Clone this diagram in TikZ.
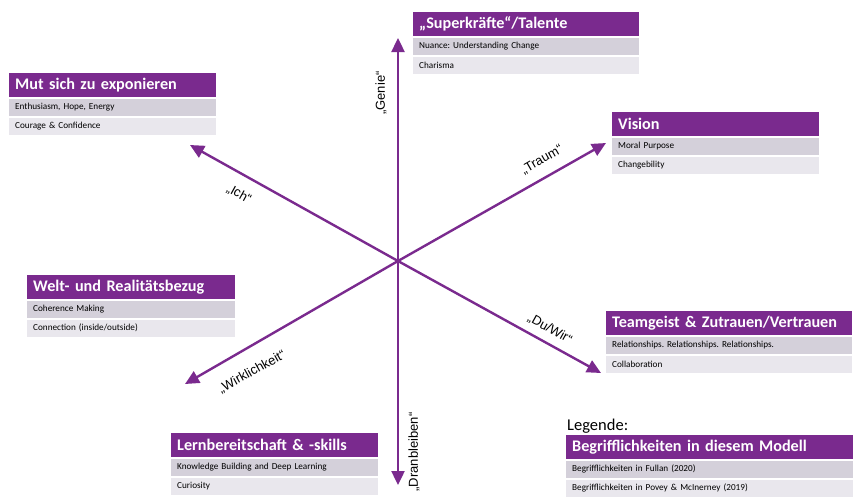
\documentclass[tikz,border=0pt]{standalone}
\usepackage{fontspec}
\setmainfont{Carlito}
\newfontfamily\axisfont{Liberation Sans}
\usetikzlibrary{arrows.meta}
\frenchspacing

\definecolor{modelpurple}{HTML}{7A2A8E}
\definecolor{rowdark}{HTML}{D4D0DA}
\definecolor{rowlight}{HTML}{E9E7ED}

\tikzset{
  axis/.style={draw=modelpurple, line width=2.4pt, -{Triangle[length=14pt,width=13pt]}},
  axislabel/.style={font=\axisfont\fontsize{13}{15}\selectfont, inner sep=0pt},
  boxhead/.style={fill=modelpurple, text=white, font=\bfseries\fontsize{16.2}{19}\selectfont,
    anchor=north west, inner xsep=6pt, inner ysep=0pt, minimum height=24pt, align=left},
  boxrow/.style={anchor=north west, font=\fontsize{9.2}{11}\selectfont,
    inner xsep=6pt, inner ysep=0pt, minimum height=17.5pt, align=left},
}

% #1 name, #2 x, #3 y (top), #4 text width, #5 title, #6 first row, #7 second row
\newcommand\conceptbox[7]{%
  \node[boxhead, text width=#4pt] (#1) at (#2,#3) {#5};
  \node[boxrow, fill=rowdark, text width=#4pt] (#1-a) at ([yshift=-1pt]#1.south west) {#6};
  \node[boxrow, fill=rowlight, text width=#4pt] (#1-b) at ([yshift=-1pt]#1-a.south west) {#7};
}

\begin{document}
\begin{tikzpicture}[x=1pt, y=-1pt]
  \useasboundingbox (0,0) rectangle (854,499);

  % axes of the model
  \coordinate (hub) at (398,261);
  \coordinate (tipup) at (398,38);
  \coordinate (tipdown) at (398,485);
  \coordinate (tipul) at (190,145);
  \coordinate (tiplr) at (601,373);
  \coordinate (tipll) at (185,384);
  \coordinate (tipur) at (606,143);

  \draw[axis] (hub) -- (tipup);
  \draw[axis] (hub) -- (tipdown);
  \draw[axis] (hub) -- (tipul);
  \draw[axis] (hub) -- (tiplr);
  \draw[axis] (hub) -- (tipll);
  \draw[axis] (hub) -- (tipur);

  % axis labels
  \node[axislabel, rotate=90]  (genie) at (381,93)  {„Genie“};
  \node[axislabel, rotate=-29] (ich)   at (239,194) {„Ich“};
  \node[axislabel, rotate=30]  (traum) at (542,160) {„Traum“};
  \node[axislabel, rotate=-29] (duwir) at (550,329) {„Du/Wir“};
  \node[axislabel, rotate=29]  (wirk)  at (252,372) {„Wirklichkeit“};
  \node[axislabel, rotate=90]  (dran)  at (414,452) {„Dranbleiben“};

  % concept boxes
  \conceptbox{mut}{9}{73}{195}{Mut sich zu exponieren}{Enthusiasm, Hope, Energy}{Courage \& Confidence}
  \conceptbox{super}{413}{12}{214}{„Superkräfte“/Talente}{Nuance: Understanding Change}{Charisma}
  \conceptbox{vision}{612}{112}{195}{Vision}{Moral Purpose}{Changebility}
  \conceptbox{welt}{27}{275}{196}{Welt- und Realitätsbezug}{Coherence Making}{Connection (inside/outside)}
  \conceptbox{team}{606}{311}{234}{Teamgeist \& Zutrauen/Vertrauen}{Relationships. Relationships. Relationships.}{Collaboration}
  \conceptbox{lern}{171}{433}{195}{Lernbereitschaft \& -skills}{Knowledge Building and Deep Learning}{Curiosity}

  % legend
  \node[anchor=base west, inner sep=0pt, font=\fontsize{16.5}{19}\selectfont] (legende) at (567,430) {Legende:};
  \conceptbox{legend}{566}{435}{275}{Begrifflichkeiten in diesem Modell}{Begrifflichkeiten in Fullan (2020)}{Begrifflichkeiten in Povey \& McInerney (2019)}
\end{tikzpicture}
\end{document}
